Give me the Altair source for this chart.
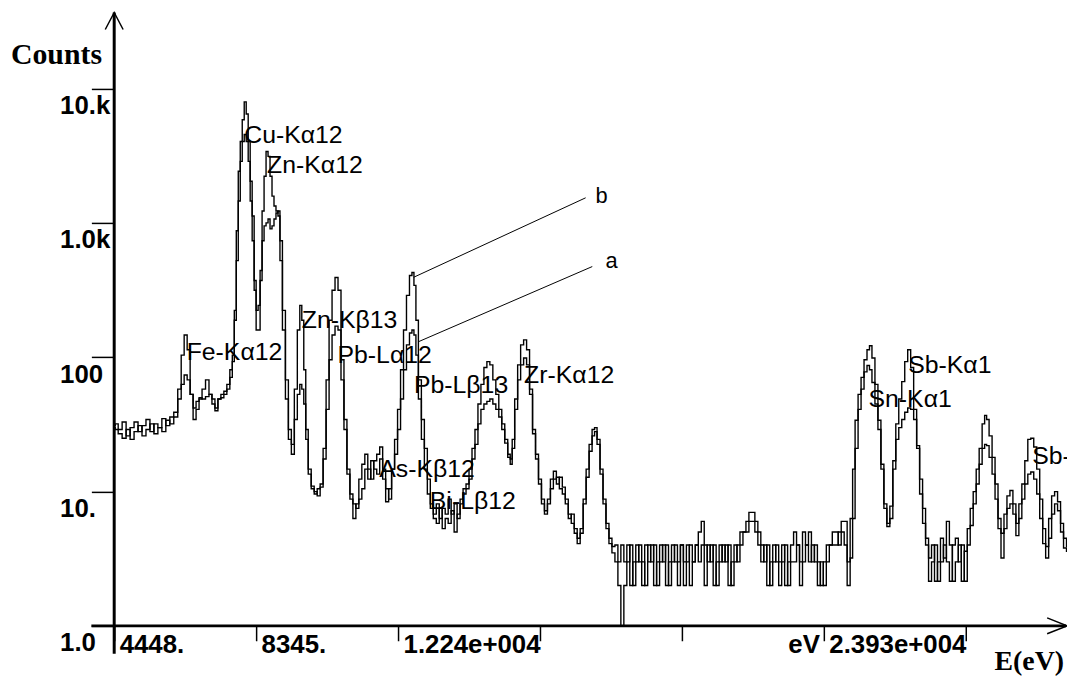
import altair as alt
import pandas as pd

# ---------------- spectrum data (energy in eV, counts) ----------------
energy_ev = [
    4448, 4503, 4612, 4720, 4830, 4939, 5048, 5157, 5266, 5375, 5484, 5593, 5702, 5811, 5920, 6029, 6138,
    6247, 6328, 6410, 6492, 6574, 6655, 6737, 6819, 6901, 7010, 7091, 7173, 7255, 7337, 7418, 7500, 7582, 7664, 7718,
    7773, 7827, 7882, 7936, 7991, 8045, 8100, 8154, 8209, 8263, 8318, 8372, 8427, 8481, 8536, 8590, 8645, 8699, 8754,
    8808, 8863, 8917, 8972, 9026, 9108, 9190, 9271,
    9353, 9435, 9517, 9571, 9626, 9680, 9735, 9816, 9898, 9980, 10062, 10143, 10225, 10307, 10389, 10470, 10552, 10634,
    10716, 10797, 10879, 10961, 11043, 11124,
    11206, 11288, 11370, 11451, 11533, 11615, 11697, 11778, 11860, 11942, 12024, 12105, 12187, 12269, 12351, 12432,
    12514, 12596, 12650, 12705, 12759, 12841, 12923, 13005, 13086, 13168, 13250,
    13332, 13413, 13495, 13577, 13659, 13740, 13822, 13904, 13986, 14067, 14149, 14231, 14313, 14394, 14476, 14558,
    14640, 14721, 14803, 14885, 14967, 15048, 15130, 15212, 15294, 15348, 15403, 15484, 15566, 15648, 15730, 15811,
    15893, 15975, 16057, 16138, 16220, 16302,
    16384, 16465, 16547, 16629, 16711, 16792, 16874, 16956, 17038, 17119, 17201, 17283, 17365, 17446, 17528, 17610,
    17664, 17746, 17828, 17910, 17991, 18073, 18155,
    18237, 18318, 18400, 18482, 18564, 18645, 18727, 18809, 18891, 18972, 19054, 19136, 19218, 19299, 19381, 19463,
    19545, 19626, 19708, 19790, 19872, 19953, 20035, 20117, 20199, 20280, 20362, 20444, 20526, 20607, 20689, 20771,
    20853, 20934, 21016, 21098, 21180, 21261, 21343, 21425, 21507, 21588, 21670, 21752, 21834, 21915, 21997, 22079,
    22161, 22242, 22324, 22406, 22488, 22569, 22651, 22733, 22815, 22896, 22978, 23060, 23142, 23223, 23305, 23387,
    23469, 23550, 23632, 23714, 23796, 23877, 23959, 24041, 24123, 24204, 24286, 24368, 24450, 24531, 24613,
    24695, 24749, 24831, 24913, 24995, 25076, 25158, 25212, 25294, 25376, 25458, 25540, 25621, 25703, 25785, 25867,
    25948, 26030, 26112, 26194, 26275, 26357, 26439, 26521, 26602, 26684, 26766, 26848, 26929, 27011, 27093, 27175,
    27256, 27338, 27420, 27502, 27583, 27665, 27747, 27829, 27910, 27992, 28074, 28156, 28237, 28319, 28374, 28428,
    28510, 28592, 28673, 28755, 28837, 28919, 29000, 29082, 29164, 29246, 29327, 29409, 29491, 29573, 29654, 29736,
    29818, 29900, 29981, 30063, 30145, 30227, 30308, 30390, 30472, 30554, 30635,
]

counts_b = [
    31, 32, 29, 33, 26, 30, 33, 28, 31, 34.5, 28, 32, 30, 35, 31, 36, 39,
    58, 104, 147, 114, 53, 34.5, 41, 49, 58, 68, 53, 45, 40, 49, 53, 56, 63, 81, 104,
    224, 877, 2434, 4056, 5900, 8015, 6500, 4056, 2053, 1132, 374, 160, 160, 444, 1233, 2235, 3421, 3142, 2235,
    1590, 1342, 1233, 1132, 526, 160, 49, 24.5,
    22.5, 58, 160, 244, 189, 81, 29, 14.7, 10.5, 9.6, 10.5, 10.8, 21, 68, 189, 316, 394, 316, 96, 34.5, 14.7, 8.8,
    6.3, 8.1,
    12.4, 16, 19, 14.7, 12.4, 17, 19, 21.5, 14.7, 10.5, 8.8, 14.7, 24.5, 41, 81, 160, 290, 407, 429, 344, 189, 68,
    34.5, 21, 12.4, 8.1, 6.8,
    8.1, 6.3, 7.5, 6.8, 8.8, 6.8, 8.1, 6.3, 8.8, 10.5, 11.4, 14.7, 21, 29, 45, 63, 84, 93, 88, 68, 53, 41, 32, 24.5,
    19, 17.5, 24.5, 49, 88, 124, 135, 114, 58, 29, 19, 12.4, 8.8, 7.2,
    8.8, 12.4, 14.2, 11.4, 12.8, 10.8, 8.8, 6.8, 5.8, 5.3, 4.5, 5.3, 8.8, 14.7, 22.5, 29, 30, 24.5, 14.7, 8.8, 5.8,
    4.5, 3.9,
    4, 3, 4, 3, 4, 2, 3, 4, 3, 2, 4, 3, 4, 2, 3, 4, 3, 4, 2, 3, 4, 3, 4, 2, 3, 4, 3, 4, 5, 6,
    4, 3, 4, 2, 3, 4, 3, 4, 2, 3, 4, 3, 5, 5, 6, 7, 7, 6, 5, 4, 3, 4, 2, 3, 4, 3, 4, 2, 3, 4,
    5, 4, 3, 5, 4, 5, 3, 4, 3, 2, 3, 4, 4, 5, 5, 4, 6, 6, 3,
    6.3, 14.7, 34, 53, 71, 96, 114, 122, 99, 63, 34, 16, 8.1, 5.5, 7.8, 17, 32, 49, 66, 93,
    114, 84, 41, 21, 9.6, 5.8, 4, 3.2, 4, 2.15, 3, 4.5, 3.2, 6, 4, 2.15, 3, 4, 2.15, 3.6,
    5.3, 7.5, 10, 14.7, 21, 32, 37, 34.5, 26, 18, 11.4, 6.3, 4.9, 6.8, 9.3, 10.2, 8.1, 5.8, 8.1, 11.4,
    17, 24.5, 25, 21.5, 14.7, 8.8, 5.3, 3.9, 6.3, 9.3, 10, 8.4, 5.8, 4.5, 3.9,
]

counts_a = [
    30, 29, 27, 25, 29, 24.5, 28, 31, 26, 29, 32, 27, 30, 28, 34, 32, 36,
    49, 63, 74, 68, 53, 42, 47, 50, 49, 51, 53, 49, 42, 49, 50, 53, 58, 71, 93,
    189, 526, 1462, 2886, 4056, 4571, 4056, 2886, 1462, 740, 316, 224, 244, 374, 740, 955, 1005, 1075, 906,
    955, 1075, 1191, 1233, 740, 224, 68, 29,
    19, 34.5, 53, 63, 58, 45, 24.5, 13.5, 11, 10, 9.3, 11.4, 17.5, 41, 96, 147, 171, 160, 68, 29, 13.5, 9.6,
    8.1, 7.5,
    8.8, 10.5, 14.7, 12.4, 17, 14.7, 13.5, 17.5, 12.4, 8.4, 10.5, 14.7, 19, 29, 49, 81, 124, 152, 160, 147, 104, 49,
    24.5, 14.7, 9.6, 7.5, 6.3,
    5.8, 7.5, 5.3, 6.3, 5.8, 7.2, 5, 6.8, 8.1, 9.6, 10.5, 12.4, 17.5, 22.5, 32, 41, 45, 47, 49, 45, 41, 36, 29, 23,
    18, 16, 21, 41, 68, 88, 99, 88, 53, 27, 17.5, 11.4, 8.1, 6.8,
    8.1, 10.5, 12.4, 12.8, 10.5, 9.6, 8.1, 6.3, 6.8, 4.9, 4.1, 4.9, 8.1, 12.8, 20, 26, 28, 22.5, 13.5, 8.1, 5.3,
    4.1, 3.5,
    3, 2, 1, 2, 3, 4, 2, 3, 4, 3, 2, 4, 3, 4, 2, 3, 4, 2, 3, 4, 3, 2, 4, 3, 4, 2, 3, 4, 3, 4,
    2, 4, 3, 4, 2, 3, 4, 3, 4, 2, 3, 4, 4, 5, 5, 6, 6, 5, 4, 3, 4, 2, 3, 4, 3, 2, 3, 4, 2, 3,
    3, 4, 2, 3, 4, 3, 4, 3, 2, 3, 2, 3, 4, 4, 4, 5, 5, 4, 2,
    3.2, 6.3, 21, 41, 58, 78, 87, 81, 65, 45, 29, 14.7, 7.5, 5.8, 6.3, 14.7, 24.5, 30, 34.5, 39,
    42, 41, 34.5, 22, 12.4, 7.5, 4.5, 2.15, 3, 4, 2.15, 3, 4, 3, 2.15, 4, 4.5, 3, 4, 2.15,
    4, 5.6, 8.1, 11.4, 16, 21, 22.5, 22, 18, 13.5, 8.8, 5.3, 3.2, 5.3, 7.5, 8.1, 6.8, 4.7, 6.3, 8.8,
    11.4, 13.5, 14, 12.4, 9.6, 6.3, 4.1, 3.2, 4.5, 6.8, 8.1, 7.2, 5, 3.8, 3.6,
]

# ---------------- peak labels ----------------
peak_names = ["Fe-K\u03b112", "Cu-K\u03b112", "Zn-K\u03b112", "Zn-K\u03b213", "Pb-L\u03b112", "As-K\u03b212",
              "Pb-L\u03b213", "Bi-L\u03b212", "Zr-K\u03b112", "Sn-K\u03b11", "Sb-K\u03b11", "Sb-K\u03b21"]
peak_label_ev = [6437, 8018, 8645, 9598, 10579, 11724, 12678, 13114, 15702, 25158, 26248, 29654]
peak_label_counts = [96, 3922, 2352, 165, 91, 12.85, 54.6, 7.46, 64.8, 43, 76.8, 16]

# ---------------- sample annotations (a / b leader lines) ----------------
sample_names = ["b", "a"]
lead_start_ev = [12669, 12806]
lead_start_counts = [395, 131]
lead_end_ev = [17392, 17574]
lead_end_counts = [1545, 475]
sample_text_ev = [17664, 17937]
sample_text_counts = [1413, 467]

# ---------------- axis ticks ----------------
x_tick_values = [4448, 8345, 12242, 16139, 20036, 23933, 27830]
x_tick_labels = ["4448.", "8345.", "1.224e+004", "", "", "2.393e+004", ""]
y_tick_values = [1, 10, 100, 1000, 10000]
y_tick_labels = ["1.0", "10.", "100", "1.0k", "10.k"]


def label_expr(values, labels):
    expr = "''"
    for v, l in reversed(list(zip(values, labels))):
        expr = f"datum.value == {v} ? '{l}' : ({expr})"
    return expr


n = len(energy_ev)
spec = pd.DataFrame({
    "E": energy_ev + energy_ev,
    "counts": counts_a + counts_b,
    "sample": ["a"] * n + ["b"] * n,
})
peaks = pd.DataFrame({"name": peak_names, "E": peak_label_ev, "counts": peak_label_counts})
leads = pd.DataFrame({"sample": sample_names, "E": lead_start_ev, "counts": lead_start_counts,
                      "E1": lead_end_ev, "c1": lead_end_counts})
sample_lbl = pd.DataFrame({"sample": sample_names, "E": sample_text_ev, "counts": sample_text_counts})
one = pd.DataFrame({"k": [0]})

W, H = 960, 614
xs = alt.Scale(domain=[4448, 30608], nice=False, zero=False)
ys = alt.Scale(type="log", domain=[1, 34650], nice=False)

SANS = "Liberation Sans"
SERIF = "Liberation Serif"

x_axis = alt.Axis(values=x_tick_values, labelExpr=label_expr(x_tick_values, x_tick_labels), title=None,
                  domain=False, grid=False, tickSize=15, tickWidth=1.5, tickColor="black",
                  labelAlign="left", labelBaseline="top", labelPadding=-9, labelOffset=5,
                  labelFont=SANS, labelFontSize=26, labelFontWeight="bold", labelColor="black",
                  labelOverlap=False, labelFlush=False, orient="bottom")
y_axis = alt.Axis(values=y_tick_values, labelExpr=label_expr(y_tick_values, y_tick_labels), title=None,
                  domain=False, grid=False, tickSize=23, tickWidth=1.5, tickColor="black",
                  labelAlign="left", labelBaseline="top", labelPadding=32, labelOffset=4,
                  labelFont=SANS, labelFontSize=26, labelFontWeight="bold", labelColor="black",
                  labelOverlap=False, labelFlush=False, orient="left")

X = alt.X("E:Q", scale=xs, axis=x_axis, title=None)
Y = alt.Y("counts:Q", scale=ys, axis=y_axis, title=None)

lines = alt.Chart(spec).mark_line(color="black", strokeWidth=1.4, interpolate="step", clip=True).encode(
    x=X, y=Y, detail="sample:N",
)

peak_text = alt.Chart(peaks).mark_text(align="left", baseline="alphabetic", font=SANS, fontSize=25,
                                       color="black", clip=True).encode(x=X, y=Y, text="name:N")

lead_lines = alt.Chart(leads).mark_rule(color="black", strokeWidth=1).encode(
    x=X, x2="E1:Q", y=Y, y2="c1:Q",
)
lead_text = alt.Chart(sample_lbl).mark_text(align="left", baseline="alphabetic", font=SANS, fontSize=22,
                                            color="black").encode(x=X, y=Y, text="sample:N")

y_line = alt.Chart(one).mark_rule(color="black", strokeWidth=3).encode(
    x=alt.value(0), y=alt.value(-4), y2=alt.value(642))
x_line = alt.Chart(one).mark_rule(color="black", strokeWidth=3).encode(
    x=alt.value(-23), x2=alt.value(W - 1), y=alt.value(H))
y_arrow = alt.Chart(one).mark_point(shape="M-1,1.9L0,0L1,1.9", size=324, filled=False, color="black",
                                    strokeWidth=1.5, opacity=1).encode(x=alt.value(0), y=alt.value(-4))
x_arrow = alt.Chart(one).mark_point(shape="M-2.5,-1L0,0L-2.5,1", size=256, filled=False, color="black",
                                    strokeWidth=1.5, opacity=1).encode(x=alt.value(W), y=alt.value(H))

counts_title = alt.Chart(one).mark_text(text="Counts", align="left", baseline="alphabetic", font=SERIF,
                                        fontSize=30, fontWeight="bold", color="black").encode(
    x=alt.value(-104), y=alt.value(48))
e_title = alt.Chart(one).mark_text(text="E(eV)", align="left", baseline="alphabetic", font=SERIF,
                                   fontSize=28, fontWeight="bold", color="black").encode(
    x=alt.value(887), y=alt.value(658))
ev_unit = alt.Chart(pd.DataFrame({"E": [x_tick_values[5]]})).mark_text(
    text="eV", align="right", baseline="top", dx=-4, font=SANS, fontSize=26, fontWeight="bold",
    color="black").encode(x=X, y=alt.value(H + 6))

chart = alt.layer(
    lines, peak_text, lead_lines, lead_text, y_line, x_line, y_arrow, x_arrow, counts_title, e_title, ev_unit
).properties(
    width=W, height=H,
    padding={"left": 107, "top": 6, "right": 0, "bottom": 52},
    autosize=alt.AutoSizeParams(type="none"),
).configure(background="white").configure_view(stroke="transparent", strokeOpacity=0, strokeWidth=0)

chart.save("out.html", embed_options={"renderer": "svg", "actions": False})
